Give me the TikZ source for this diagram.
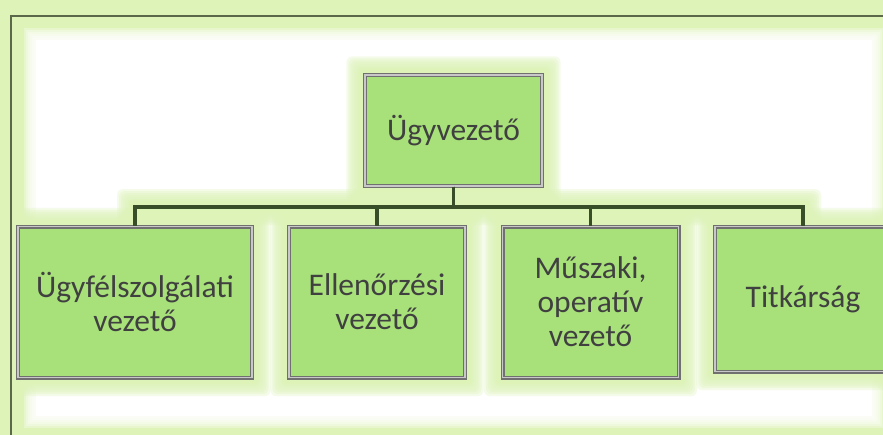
\documentclass[tikz,border=0pt]{standalone}
\usepackage{fontspec}
\setmainfont{Carlito}
\usepackage{tikz}
\usetikzlibrary{trees,backgrounds}
\usepackage{xcolor}
\definecolor{boxgreen}{RGB}{168,225,122}
\definecolor{halogreen}{RGB}{221,243,184}
\definecolor{busgreen}{RGB}{55,78,40}
\definecolor{framegray}{RGB}{92,104,74}
\definecolor{textgray}{RGB}{64,64,64}
\definecolor{rimdark}{RGB}{112,112,112}
\definecolor{rimlight}{RGB}{200,200,200}

\begin{document}
\begin{tikzpicture}[
    x=1pt, y=1pt,
    level 1/.style={sibling distance=213pt, level distance=95.5pt},
    every node/.style={draw=rimdark, line width=1.2pt, double=rimlight, double distance=1.6pt,
        fill=boxgreen, text=textgray, inner sep=0pt, align=center,
        font=\fontsize{31.5}{34}\selectfont},
    every child node/.style={anchor=north, minimum width=176pt, minimum height=151pt},
    edge from parent/.style={draw=busgreen, line width=3.5pt},
    edge from parent path={(\tikzparentnode.south) -- ++(0,-20.5) -| (\tikzchildnode.north)}
]
\useasboundingbox (0,0) rectangle (883,435);
\node[minimum width=177pt, minimum height=111pt] (boss) at (453.5,304.5) {Ügyvezető}
    child {node[minimum width=234pt, xshift=1pt] (cust) {Ügyfélszolgálati\\vezető}}
    child {node[xshift=30pt] (ctrl) {Ellenőrzési\\vezető}}
    child {node[xshift=30.5pt] (tech) {Műszaki,\\operatív\\vezető}}
    child {node[xshift=30pt, minimum height=145pt] (secr) {Titkárság}};
\path (boss.south) ++(0,-20.5) coordinate (busmid);
\path (busmid -| cust.north) coordinate (busL) (busmid -| secr.north) coordinate (busR);
\draw[framegray, line width=2.5pt] (11,-5) -- (11,419) -- (890,419);
\begin{scope}[on background layer]
  \fill[halogreen] (0,0) rectangle (883,435);
  \foreach \d in {0,2,...,10}
    \fill[white, opacity=.3] (24+\d,7+\d) rectangle (884-\d,407-\d);
  \fill[white] (36,19) rectangle (872,395);
  \foreach \n in {boss,cust,ctrl,tech,secr}{
    \foreach \d in {18,16,...,8}
      \fill[halogreen, opacity=.3, rounded corners=6pt]
        ([shift={(-\d,-\d)}]\n.south west) rectangle ([shift={(\d,\d)}]\n.north east);
    \fill[halogreen, rounded corners=4pt]
      ([shift={(-6,-6)}]\n.south west) rectangle ([shift={(6,6)}]\n.north east);
  }
  \foreach \d in {18,16,...,8}
    \fill[halogreen, opacity=.3, rounded corners=6pt]
      ([shift={(-\d,-\d)}]busL) rectangle ([shift={(\d,\d)}]busR);
  \fill[halogreen] ([shift={(-6,-6)}]busL) rectangle ([shift={(6,6)}]busR);
\end{scope}
\end{tikzpicture}
\end{document}
